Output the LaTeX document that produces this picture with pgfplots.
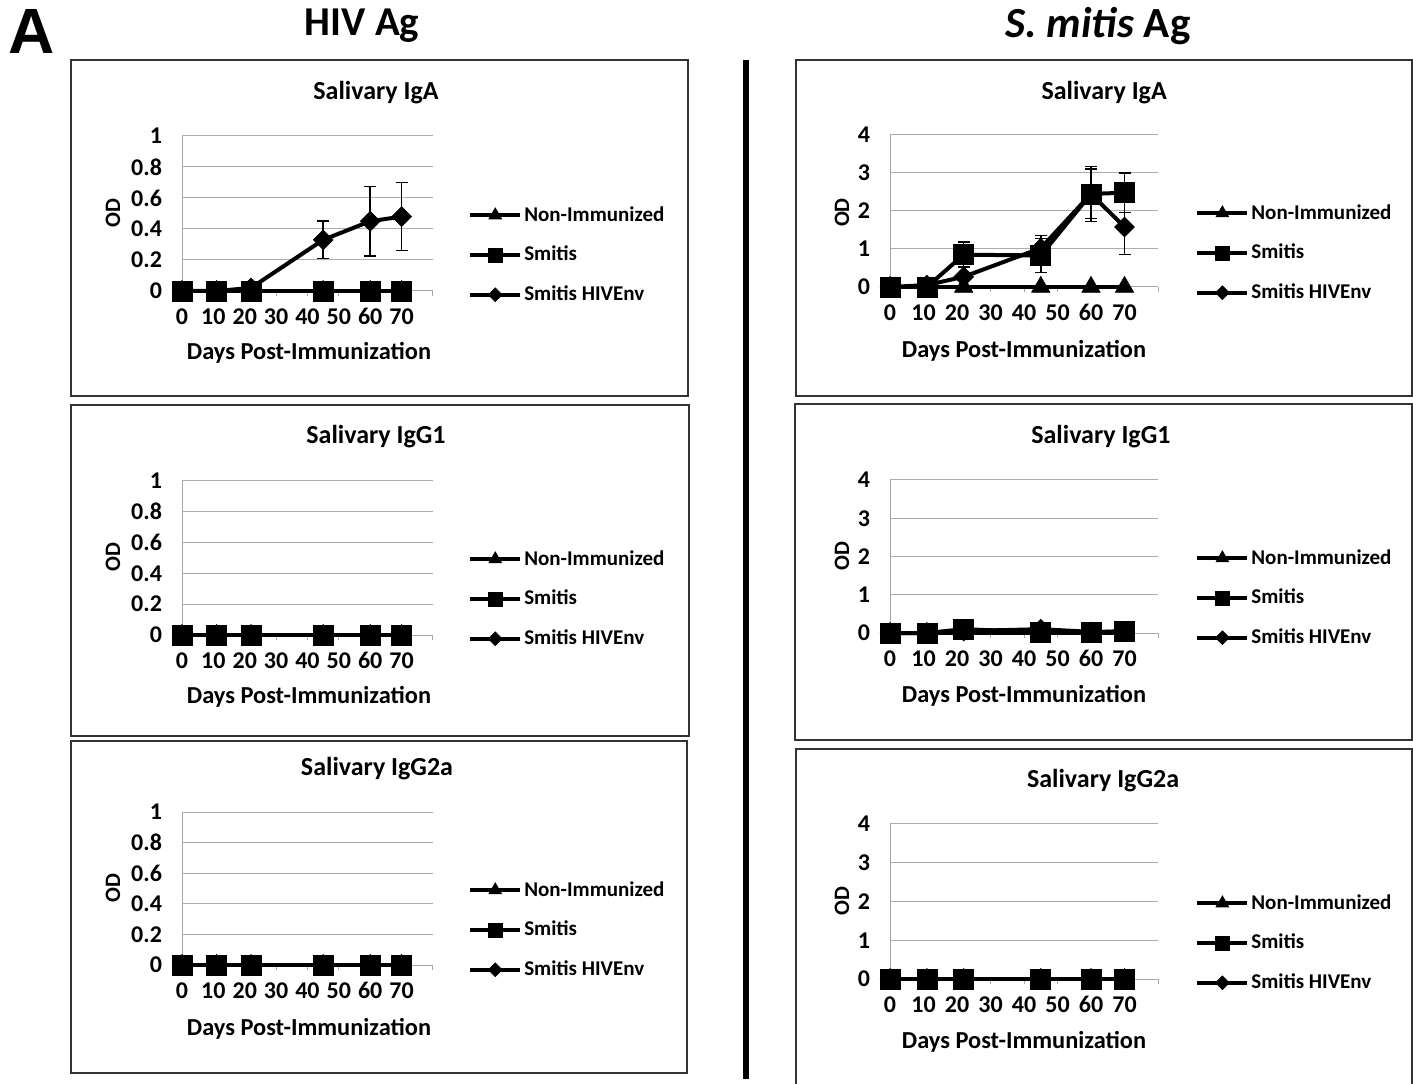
\documentclass[border=0pt]{standalone}
\usepackage{fontspec}
\setmainfont{Carlito}
\newfontfamily\arialfont{Liberation Sans}
\usepackage{pgfplots}
\pgfplotsset{compat=1.18}

\pgfplotsset{
  panel/.style={
    scale only axis, clip=false,
    xmin=0, xmax=80,
    axis x line*=bottom, axis y line*=left,
    xtick={0,10,20,30,40,50,60,70,80},
    xticklabels={0,10,20,30,40,50,60,70,{}},
    ymajorgrids, grid style={gray!65, line width=0.5pt},
    axis line style={gray!70, line width=0.5pt},
    xtick style={gray!70, line width=0.5pt},
    ytick style={draw=none},
    tick align=outside, major tick length=2.5pt,
    /pgf/number format/assume math mode=true,
    ticklabel style={font=\bfseries\fontsize{12}{13}\selectfont},
    yticklabel style={xshift=-4pt, /pgf/number format/fixed},
    xticklabel style={yshift=-4pt, text height=1.45ex, text depth=0.2ex},
    xlabel={Days Post-Immunization},
    ylabel={OD},
    xlabel style={font=\bfseries\fontsize{12.2}{14}\selectfont, anchor=center},
    ylabel style={font=\bfseries\fontsize{11}{13}\selectfont, anchor=center},
    every axis title shift=0pt,
    title style={font=\bfseries\fontsize{13}{15}\selectfont, anchor=center, yshift=0pt},
    legend style={draw=none, fill=none, anchor=west, inner sep=0pt,
      font=\bfseries\fontsize{10.5}{12}\selectfont, row sep=9pt,
      nodes={inner sep=1pt}, yshift=-1pt},
    legend cell align=left,
    legend image code/.code={
      \draw[mark repeat=2,mark phase=2,#1, every mark/.append style={scale=0.7}]
        plot coordinates {(0pt,0pt) (12.5pt,0pt) (25pt,0pt)};},
  },
  leftpanel/.style={panel, width=125.5pt, ymin=0, ymax=1,
    ytick={0,0.2,0.4,0.6,0.8,1}},
  rightpanel/.style={panel, width=134pt, ymin=0, ymax=4,
    ytick={0,1,2,3,4}},
  s1/.style={black, line width=2pt, mark=triangle*, mark size=5.3pt,
    mark options={solid, line width=0.3pt}},
  s2/.style={black, line width=2pt, mark=square*, mark size=5pt,
    mark options={solid, line width=0.3pt}},
  s3/.style={black, line width=2pt, mark=square*, mark size=3.5pt,
    mark options={solid, rotate=45, line width=0.3pt}},
  eb/.style={error bars/.cd, y dir=both, y explicit,
    error bar style={black, line width=0.75pt},
    error mark options={black, rotate=90, mark size=3pt, line width=0.75pt}},
}

\begin{document}
\begin{tikzpicture}
\path[use as bounding box] (0pt,0pt) rectangle (706.5pt,541.5pt);

% frames
\draw[black!80, line width=0.75pt] (35.5pt,511.5pt) rectangle (344pt,343.5pt);
\draw[black!80, line width=0.75pt] (35.5pt,339pt) rectangle (344.5pt,173.5pt);
\draw[black!80, line width=0.75pt] (35.5pt,171pt) rectangle (343.5pt,5pt);
\draw[black!80, line width=0.75pt] (398pt,511.5pt) rectangle (706pt,343.5pt);
\draw[black!80, line width=0.75pt] (397.5pt,339.5pt) rectangle (706pt,171.5pt);
\draw[black!80, line width=0.75pt] (398pt,-2pt) -- (398pt,167pt) -- (706pt,167pt) -- (706pt,-2pt);
\draw[black, line width=3.25pt] (373pt,511.5pt) -- (373pt,2pt);

% headings
\node[font=\arialfont\bfseries\fontsize{32}{32}\selectfont] at (16pt,526pt) {A};
\node[font=\bfseries\fontsize{20.5}{23}\selectfont] at (181pt,528.5pt) {HIV Ag};
\node[font=\bfseries\fontsize{21.5}{24}\selectfont] at (549pt,528.5pt) {\textit{S. mitis} Ag};

% ---------- Left 1: HIV Ag, Salivary IgA
\begin{axis}[leftpanel, at={(91pt,396pt)}, anchor=south west, height=77.5pt,
  title={Salivary IgA},
  title style={at={(axis description cs:0.773,1.277)}},
  ylabel style={at={(axis description cs:-0.275,0.503)}},
  xlabel style={at={(axis description cs:0.506,-0.40)}},
  legend style={at={(axis description cs:1.139,0.245)}}]
\addplot[s1] coordinates {(0,0) (11,0) (22,0) (45,0) (60,0) (70,0)};
\addplot[s2] coordinates {(0,0) (11,0) (22,0) (45,0) (60,0) (70,0)};
\addplot[s3, eb] coordinates {(0,0) +- (0,0) (11,0) +- (0,0) (22,0.02) +- (0,0.01)
  (45,0.33) +- (0,0.12) (60,0.45) +- (0,0.225) (70,0.48) +- (0,0.22)};
\legend{Non-Immunized, Smitis, Smitis HIVEnv}
\end{axis}

% ---------- Left 2: HIV Ag, Salivary IgG1
\begin{axis}[leftpanel, at={(91pt,224pt)}, anchor=south west, height=77pt,
  title={Salivary IgG1},
  title style={at={(axis description cs:0.773,1.286)}},
  ylabel style={at={(axis description cs:-0.275,0.506)}},
  xlabel style={at={(axis description cs:0.506,-0.40)}},
  legend style={at={(axis description cs:1.139,0.247)}}]
\addplot[s1] coordinates {(0,0) (11,0) (22,0) (45,0) (60,0) (70,0)};
\addplot[s2] coordinates {(0,0) (11,0) (22,0) (45,0) (60,0) (70,0)};
\addplot[s3] coordinates {(0,0) (11,0) (22,0) (45,0) (60,0) (70,0)};
\legend{Non-Immunized, Smitis, Smitis HIVEnv}
\end{axis}

% ---------- Left 3: HIV Ag, Salivary IgG2a
\begin{axis}[leftpanel, at={(91pt,59pt)}, anchor=south west, height=76.5pt,
  title={Salivary IgG2a},
  title style={at={(axis description cs:0.777,1.281)}},
  ylabel style={at={(axis description cs:-0.275,0.503)}},
  xlabel style={at={(axis description cs:0.506,-0.418)}},
  legend style={at={(axis description cs:1.139,0.242)}}]
\addplot[s1] coordinates {(0,0) (11,0) (22,0) (45,0) (60,0) (70,0)};
\addplot[s2] coordinates {(0,0) (11,0) (22,0) (45,0) (60,0) (70,0)};
\addplot[s3] coordinates {(0,0) (11,0) (22,0) (45,0) (60,0) (70,0)};
\legend{Non-Immunized, Smitis, Smitis HIVEnv}
\end{axis}

% ---------- Right 1: S. mitis Ag, Salivary IgA
\begin{axis}[rightpanel, at={(445pt,398pt)}, anchor=south west, height=76pt,
  title={Salivary IgA},
  title style={at={(axis description cs:0.799,1.276)}},
  ylabel style={at={(axis description cs:-0.179,0.49)}},
  xlabel style={at={(axis description cs:0.5,-0.42)}},
  legend style={at={(axis description cs:1.138,0.237)}}]
\addplot[s1] coordinates {(0,0) (11,0) (22,0) (45,0) (60,0) (70,0)};
\addplot[s2, eb] coordinates {(0,0) +- (0,0) (11,0) +- (0,0) (22,0.85) +- (0,0.33)
  (45,0.83) +- (0,0.45) (60,2.45) +- (0,0.72) (70,2.48) +- (0,0.52)};
\addplot[s3, eb] coordinates {(0,0) +- (0,0) (11,0.05) +- (0,0.03) (22,0.27) +- (0,0.25)
  (45,1.02) +- (0,0.33) (60,2.45) +- (0,0.65) (70,1.58) +- (0,0.72)};
\legend{Non-Immunized, Smitis, Smitis HIVEnv}
\end{axis}

% ---------- Right 2: S. mitis Ag, Salivary IgG1
\begin{axis}[rightpanel, at={(445pt,225pt)}, anchor=south west, height=76.5pt,
  title={Salivary IgG1},
  title style={at={(axis description cs:0.787,1.281)}},
  ylabel style={at={(axis description cs:-0.179,0.503)}},
  xlabel style={at={(axis description cs:0.5,-0.41)}},
  legend style={at={(axis description cs:1.138,0.242)}}]
\addplot[s1] coordinates {(0,0) (11,0) (22,0) (45,0) (60,0) (70,0)};
\addplot[s2] coordinates {(0,0) (11,0) (22,0.1) (45,0.02) (60,0.02) (70,0.05)};
\addplot[s3] coordinates {(0,0) (11,0) (22,0.05) (45,0.1) (60,0.03) (70,0.03)};
\legend{Non-Immunized, Smitis, Smitis HIVEnv}
\end{axis}

% ---------- Right 3: S. mitis Ag, Salivary IgG2a
\begin{axis}[rightpanel, at={(445pt,52pt)}, anchor=south west, height=77.5pt,
  title={Salivary IgG2a},
  title style={at={(axis description cs:0.795,1.277)}},
  ylabel style={at={(axis description cs:-0.179,0.503)}},
  xlabel style={at={(axis description cs:0.5,-0.406)}},
  legend style={at={(axis description cs:1.138,0.245)}}]
\addplot[s1] coordinates {(0,0) (11,0) (22,0) (45,0) (60,0) (70,0)};
\addplot[s2] coordinates {(0,0) (11,0) (22,0) (45,0) (60,0) (70,0)};
\addplot[s3] coordinates {(0,0) (11,0) (22,0) (45,0) (60,0) (70,0)};
\legend{Non-Immunized, Smitis, Smitis HIVEnv}
\end{axis}
\end{tikzpicture}
\end{document}
